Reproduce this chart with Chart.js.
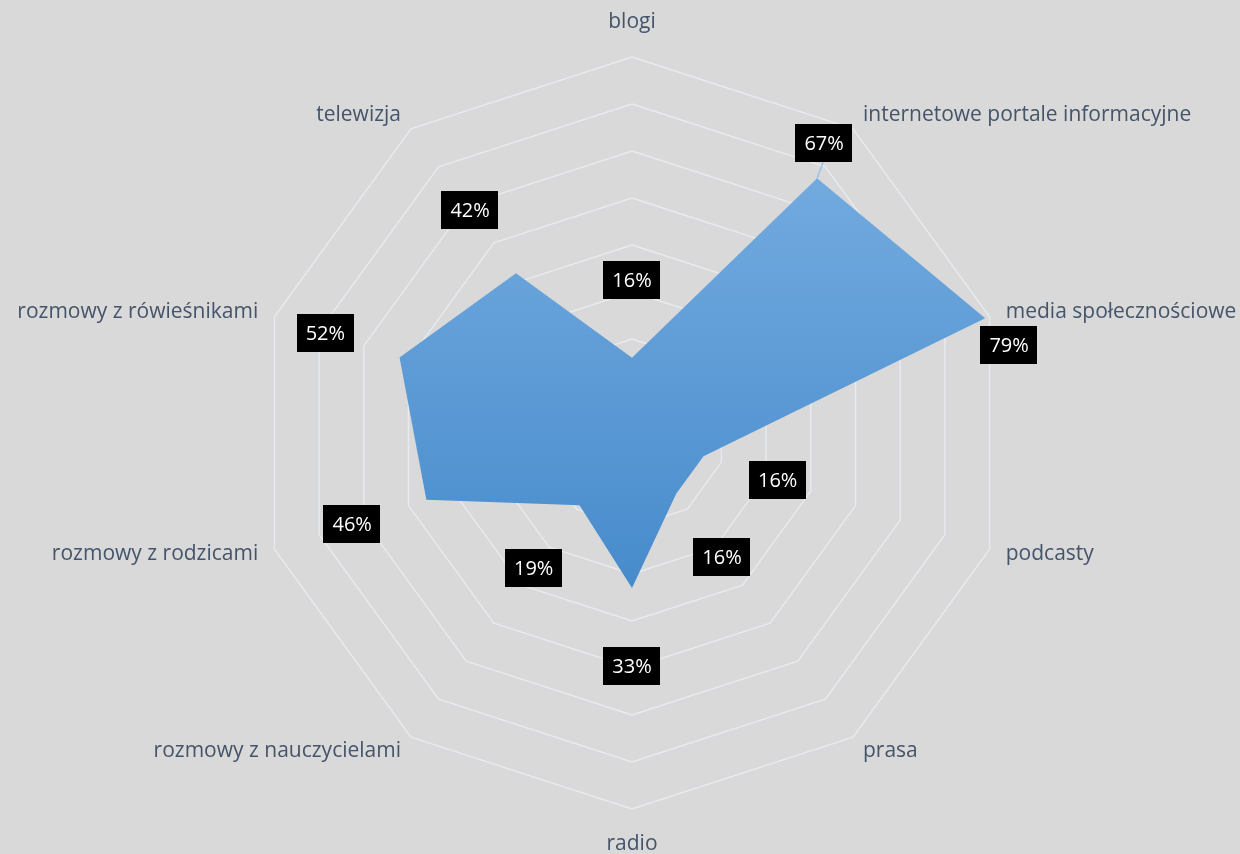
<!DOCTYPE html>
<html>
<head>
<meta charset="utf-8">
<script src="https://cdn.jsdelivr.net/npm/chart.js@4/dist/chart.umd.min.js"></script>
<style>
  html, body { margin: 0; padding: 0; background: #d9d9d9; }
  #wrap { width: 1240px; height: 854px; }
</style>
</head>
<body>
<div id="wrap"><canvas id="radarChart" width="1240" height="854"></canvas></div>
<script>
const categories = [
    'blogi',
    'internetowe portale informacyjne',
    'media społecznościowe',
    'podcasty',
    'prasa',
    'radio',
    'rozmowy z nauczycielami',
    'rozmowy z rodzicami',
    'rozmowy z rówieśnikami',
    'telewizja'
];
const values = [16, 67, 79, 16, 16, 33, 19, 46, 52, 42];
const scaleMax = 80;
const scaleStep = 10;

// label box placement: radial gap from the point, or a fixed nudge
const labelGap = 78;
const labelNudge = { 1: [7, -35], 2: [24, 27] };
const leaderLines = [1];

const FONT = "'Open Sans', 'Noto Sans', sans-serif";

// put the radar where it sits in the picture and keep point labels with it
function placeRadar(scale) {
    const cx = 632, cy = 433, rad = 376;
    const dx = cx - scale.xCenter, dy = cy - scale.yCenter, dr = rad - scale.drawingArea;
    scale.xCenter = cx;
    scale.yCenter = cy;
    scale.drawingArea = rad;
    (scale._pointLabelItems || []).forEach(function(item, i) {
        const a = scale.getIndexAngle(i) - Math.PI / 2;
        const deg = Math.round((scale.getIndexAngle(i) * 180 / Math.PI)) % 360;
        let sx = dx + dr * Math.cos(a);
        let sy = dy + dr * Math.sin(a);
        const h = item.bottom - item.top;
        if (deg !== 0 && deg !== 180) {
            sy += (deg < 90 || deg > 270) ? h / 2 : -h / 2;
        }
        item.x += sx; item.left += sx; item.right += sx;
        item.y += sy; item.top += sy; item.bottom += sy;
    });
}

const valueBoxes = {
    id: 'valueBoxes',
    afterDatasetsDraw(chart) {
        const ctx = chart.ctx;
        const scale = chart.scales.r;
        const meta = chart.getDatasetMeta(0);
        ctx.save();
        ctx.font = '20px ' + FONT;
        ctx.textAlign = 'center';
        ctx.textBaseline = 'middle';
        meta.data.forEach(function(pt, i) {
            let x, y;
            if (labelNudge[i]) {
                x = pt.x + labelNudge[i][0];
                y = pt.y + labelNudge[i][1];
            } else {
                const a = scale.getIndexAngle(i) - Math.PI / 2;
                x = pt.x + labelGap * Math.cos(a);
                y = pt.y + labelGap * Math.sin(a);
            }
            const text = values[i] + '%';
            const w = ctx.measureText(text).width + 18;
            const h = 38;
            if (leaderLines.indexOf(i) >= 0) {
                ctx.strokeStyle = '#9dc3e6';
                ctx.lineWidth = 1.5;
                ctx.beginPath();
                ctx.moveTo(x - 1, y + h / 2);
                ctx.lineTo(pt.x, pt.y);
                ctx.stroke();
            }
            ctx.fillStyle = '#000000';
            ctx.fillRect(Math.round(x - w / 2), Math.round(y - h / 2), Math.round(w), h);
            ctx.fillStyle = '#ffffff';
            ctx.fillText(text, x, y + 1);
        });
        ctx.restore();
    }
};

function areaFill(context) {
    const chart = context.chart;
    const scale = chart.scales.r;
    if (!chart.chartArea || !scale) return '#5b9bd5';
    let top = Infinity, bottom = -Infinity;
    values.forEach(function(v, i) {
        const p = scale.getPointPositionForValue(i, v);
        top = Math.min(top, p.y);
        bottom = Math.max(bottom, p.y);
    });
    const g = chart.ctx.createLinearGradient(0, top, 0, bottom);
    g.addColorStop(0, '#72aadf');
    g.addColorStop(1, '#478bcc');
    return g;
}

new Chart(document.getElementById('radarChart').getContext('2d'), {
    type: 'radar',
    data: {
        labels: categories,
        datasets: [{
            data: values,
            backgroundColor: areaFill,
            borderWidth: 0,
            fill: true,
            pointRadius: 0,
            pointHoverRadius: 0,
            tension: 0
        }]
    },
    options: {
        responsive: false,
        animation: false,
        layout: { padding: 0 },
        plugins: {
            legend: { display: false },
            tooltip: { enabled: false }
        },
        scales: {
            r: {
                min: 0,
                max: scaleMax,
                beginAtZero: true,
                angleLines: { display: false },
                grid: { color: '#e7ebf0', lineWidth: 1.4 },
                ticks: { display: false, stepSize: scaleStep },
                pointLabels: {
                    color: '#44546a',
                    font: { family: FONT, size: 21 },
                    padding: function(ctx) { return ctx.index % 5 === 0 ? 22 : 17; }
                },
                afterFit: placeRadar
            }
        }
    },
    plugins: [valueBoxes]
});
</script>
</body>
</html>
